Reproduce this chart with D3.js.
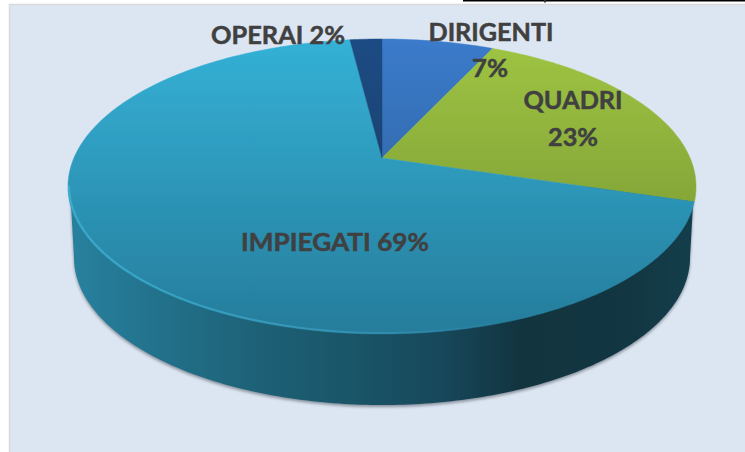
<!DOCTYPE html>
<html>
<head>
<meta charset="utf-8">
<script src="https://cdn.jsdelivr.net/npm/d3@7"></script>
<style>
  html, body { margin: 0; padding: 0; background: #fff; overflow: hidden; }
  text { font-family: Lato, "Open Sans", sans-serif; font-weight: 700; fill: #404040; stroke: #404040; stroke-width: 0.5px; }
</style>
</head>
<body>
<svg id="chart" width="745" height="452"></svg>
<script>
// data
var categories = ["DIRIGENTI", "QUADRI", "IMPIEGATI", "OPERAI"];
var shares = [7, 23, 69, 2];

// top colour, bottom colour of each slice
var topColors = ["#3b7bcb", "#9fc543", "#34b1d6", "#1c4c84"];
var bottomColors = ["#28598f", "#708e30", "#267c9b", "#16345a"];

// label layout: text lines, centre x, baseline y, width
var labelLines = [
  [["DIRIGENTI", 491, 41, 125], ["7%", 490, 77, 36]],
  [["QUADRI", 573, 109, 99], ["23%", 573, 146, 50]],
  [["IMPIEGATI 69%", 335, 251, 188]],
  [["OPERAI 2%", 278, 44, 134]]
];

var width = 745, height = 452;
var svg = d3.select("#chart");
var defs = svg.append("defs");

// disc ellipse on screen
var cx = 382, cy = 186.5, rx = 314, ry = 147.5;
var apexY = 158;
var x = d3.scaleLinear().domain([-1, 1]).range([cx - rx, cx + rx]);
var y = d3.scaleLinear().domain([-1, 1]).range([cy - ry, cy + ry]);
var k = (apexY - cy) / ry;   // perspective shift of the disc centre

// angle on the real disc -> point on the foreshortened ellipse
function project(a) {
  var u = Math.sin(a), v = -Math.cos(a), d = 1 + k * v;
  return [x(u * Math.sqrt(1 - k * k) / d), y((v + k) / d)];
}

function arcPoints(a0, a1) {
  var n = Math.max(2, Math.ceil(Math.abs(a1 - a0) * 60));
  return d3.range(n + 1).map(function(i) { return project(a0 + (a1 - a0) * i / n); });
}

var line = d3.line();
var pie = d3.pie().sort(null).value(function(d) { return d; });
var slices = pie(shares);

// background panel
svg.append("rect").attr("width", width).attr("height", height).attr("fill", "#fff");
svg.append("rect").attr("x", 9.5).attr("y", 4.5).attr("width", width).attr("height", height)
  .attr("fill", "#dce6f2").attr("stroke", "#d9d9d9").attr("stroke-width", 1.5);
svg.append("rect").attr("x", 463).attr("y", 0).attr("width", 282).attr("height", 1.5).attr("fill", "#000");
svg.append("rect").attr("x", 544).attr("y", 0).attr("width", 2).attr("height", 2.5).attr("fill", "#333");

// gradients
slices.forEach(function(s, i) {
  var g = defs.append("linearGradient").attr("id", "slice" + i)
    .attr("gradientUnits", "userSpaceOnUse")
    .attr("x1", 0).attr("x2", 0).attr("y1", cy - ry).attr("y2", cy + ry);
  g.append("stop").attr("offset", 0).attr("stop-color", topColors[i]);
  g.append("stop").attr("offset", 1).attr("stop-color", bottomColors[i]);
});

var wallStops = [[0, "#27829f"], [0.12, "#23748f"], [0.28, "#1e6379"], [0.45, "#1a5568"],
                 [0.6, "#17475a"], [0.72, "#12343f"], [0.9, "#123742"], [1, "#143e4c"]];
var wallGrad = defs.append("linearGradient").attr("id", "wall")
  .attr("gradientUnits", "userSpaceOnUse")
  .attr("x1", cx - rx).attr("x2", cx + rx).attr("y1", 0).attr("y2", 0);
wallStops.forEach(function(d) {
  wallGrad.append("stop").attr("offset", d[0]).attr("stop-color", d[1]);
});

var rimGrad = defs.append("linearGradient").attr("id", "rim")
  .attr("gradientUnits", "userSpaceOnUse")
  .attr("x1", cx - rx).attr("x2", cx + rx * 0.4).attr("y1", 0).attr("y2", 0);
rimGrad.append("stop").attr("offset", 0).attr("stop-color", "#3fb2d4").attr("stop-opacity", 0.8);
rimGrad.append("stop").attr("offset", 0.6).attr("stop-color", "#45b0d0").attr("stop-opacity", 0.45);
rimGrad.append("stop").attr("offset", 1).attr("stop-color", "#45b0d0").attr("stop-opacity", 0);

defs.append("filter").attr("id", "soft").attr("x", "-5%").attr("y", "-5%").attr("width", "110%").attr("height", "110%")
  .append("feGaussianBlur").attr("stdDeviation", 1.6);
defs.append("filter").attr("id", "edge").append("feGaussianBlur").attr("stdDeviation", 0.4);
defs.append("filter").attr("id", "rimBlur").attr("x", "-5%").attr("y", "-5%").attr("width", "110%").attr("height", "110%")
  .append("feGaussianBlur").attr("stdDeviation", 0.7);

// side wall, the disc lowered by its thickness and pulled in a little
var depth = 71, shrink = 0.981;
var wallY = d3.scaleLinear().domain([-1, 1]).range([cy - ry + depth, cy + ry + depth]);
var wallX = d3.scaleLinear().domain([-1, 1]).range([cx - rx * shrink, cx + rx * shrink]);
var lower = d3.range(0, 181).map(function(i) {
  var t = Math.PI * i / 180;
  return [wallX(-Math.cos(t)), wallY(Math.sin(t))];
});
var wallPts = [[x(-1) + 2, cy]].concat(lower, [[x(1) - 2, cy]]);

svg.append("path").attr("d", line(wallPts) + "Z")
  .attr("fill", "#6b7480").attr("opacity", 0.75)
  .attr("transform", "translate(0,2)").attr("filter", "url(#soft)");
svg.append("path").attr("d", line(wallPts) + "Z").attr("fill", "url(#wall)");

// top face
var g = svg.append("g").attr("filter", "url(#edge)");
var apex = [cx, apexY];
g.selectAll("path.slice").data(slices).join("path").attr("class", "slice")
  .attr("d", function(s) {
    return line([apex].concat(arcPoints(s.startAngle, s.endAngle))) + "Z";
  })
  .attr("fill", function(s, i) { return "url(#slice" + i + ")"; })
  .attr("stroke", function(s, i) { return "url(#slice" + i + ")"; })
  .attr("stroke-width", 0.5);

// light rim on the lower left of the disc
var rimPts = d3.range(0, 181).map(function(i) {
  var t = Math.PI * i / 180;
  return [x(-Math.cos(t)) + 1, y(Math.sin(t)) - 1];
});
svg.append("path").attr("d", line(rimPts)).attr("fill", "none")
  .attr("stroke", "url(#rim)").attr("stroke-width", 2).attr("filter", "url(#rimBlur)");

// labels
labelLines.forEach(function(lines, i) {
  lines.forEach(function(l) {
    svg.append("text")
      .attr("x", l[1]).attr("y", l[2])
      .attr("text-anchor", "middle")
      .attr("font-size", 25.5)
      .attr("textLength", l[3]).attr("lengthAdjust", "spacingAndGlyphs")
      .text(l[0]);
  });
});
</script>
</body>
</html>
